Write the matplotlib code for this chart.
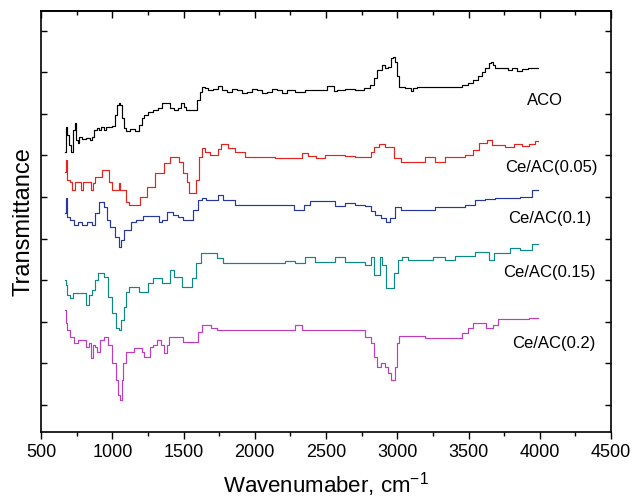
import matplotlib
matplotlib.use("Agg")
import matplotlib.pyplot as plt
import numpy as np
from matplotlib.ticker import MultipleLocator

plt.rcParams["font.family"] = ["Liberation Sans", "DejaVu Sans"]
plt.rcParams["mathtext.fontset"] = "custom"
plt.rcParams["mathtext.rm"] = "Liberation Sans"
plt.rcParams["mathtext.default"] = "regular"

# FTIR spectra: wavenumber (cm-1), transmittance (a.u., offset)
aco_w = [668, 675, 690, 704, 718, 732, 739, 753, 760, 774, 800, 830, 850, 865, 879, 900, 914,
         930, 949, 965, 984, 1005, 1026, 1040, 1047, 1061, 1075, 1089, 1110, 1140, 1174, 1195,
         1216, 1230, 1265, 1300, 1335, 1356, 1391, 1419, 1447, 1475, 1496, 1511, 1525, 1581,
         1602, 1623, 1637, 1658, 1686, 1721, 1756, 1777, 1826, 1860, 1896, 1930, 1967, 2000,
         2037, 2070, 2107, 2140, 2177, 2210, 2247, 2318, 2388, 2458, 2549, 2560, 2598, 2668,
         2739, 2795, 2823, 2844, 2865, 2886, 2900, 2921, 2942, 2963, 2977, 2991, 3005, 3019,
         3090, 3104, 3118, 3160, 3300, 3440, 3475, 3511, 3546, 3581, 3602, 3630, 3651, 3665,
         3679, 3693, 3756, 3791, 3826, 3860, 3897, 3940, 3988]
aco_t = [253, 278, 270, 260, 253, 275, 282, 265, 262, 268, 266, 267, 265, 268, 275, 277, 275,
         278, 275, 278, 278, 279, 290, 300, 302, 300, 287, 277, 274, 276, 274, 280,
         287, 290, 293, 295, 297, 302, 302, 297, 295, 297, 302, 298, 295, 295,
         305, 313, 318, 317, 315, 316, 319, 315, 313, 316, 315, 312, 313, 316,
         315, 312, 313, 316, 315, 312, 315, 313, 315, 315, 319, 314, 315, 316,
         315, 317, 320, 327, 335, 335, 340, 337, 338, 347, 348, 343, 329, 318,
         317, 314, 317, 318, 318, 318, 320, 322, 325, 329, 333, 337, 342, 343,
         340, 337, 337, 335, 337, 334, 336, 337, 337]

ce005_w = [668, 675, 690, 711, 725, 746, 774, 788, 802, 844, 858, 872, 886, 914, 942, 970, 984,
           1005, 1040, 1047, 1054, 1075, 1110, 1125, 1174, 1216, 1265, 1335, 1391, 1419, 1461,
           1475, 1511, 1532, 1546, 1581, 1595, 1616, 1637, 1665, 1700, 1721, 1756, 1770, 1791,
           1832, 1896, 1967, 2037, 2107, 2177, 2247, 2318, 2350, 2400, 2458, 2528, 2598, 2668,
           2739, 2809, 2823, 2850, 2890, 2942, 3005, 3054, 3104, 3160, 3230, 3300, 3370, 3440,
           3511, 3546, 3602, 3651, 3679, 3721, 3791, 3850, 3897, 3950, 3988]
ce005_t = [233, 245, 225, 223, 215, 223, 223, 215, 223, 223, 215, 222, 228, 228, 235, 235, 223,
           215, 215, 222, 215, 215, 203, 200, 200, 208, 218, 232, 242, 248, 248,
           243, 232, 223, 212, 212, 225, 248, 257, 253, 250, 250, 256, 261, 261,
           257, 253, 248, 248, 248, 247, 247, 247, 252, 249, 247, 250, 250, 249,
           248, 248, 253, 258, 261, 258, 247, 243, 243, 243, 248, 243, 248, 248,
           250, 255, 262, 265, 260, 260, 258, 261, 259, 261, 264]

ce01_w = [668, 675, 690, 711, 746, 774, 802, 844, 872, 886, 928, 949, 970, 998, 1033, 1054, 1068,
          1096, 1125, 1139, 1195, 1230, 1265, 1300, 1321, 1335, 1356, 1405, 1440, 1475, 1511,
          1546, 1581, 1616, 1637, 1672, 1721, 1760, 1790, 1830, 1896, 1967, 2037, 2107, 2177,
          2247, 2300, 2330, 2360, 2420, 2458, 2528, 2598, 2668, 2739, 2809, 2823, 2865, 2900,
          2935, 2963, 3005, 3054, 3160, 3230, 3300, 3370, 3440, 3511, 3581, 3651, 3721, 3826,
          3900, 3988]
ce01_t = [192, 207, 188, 185, 180, 183, 180, 183, 180, 192, 203, 198, 185, 178, 168, 158, 165,
          175, 175, 183, 185, 189, 189, 189, 189, 183, 185, 193, 190, 188, 185,
          185, 195, 205, 207, 205, 205, 210, 205, 205, 200, 200, 200, 200, 200,
          200, 195, 195, 200, 204, 204, 204, 199, 202, 200, 199, 194, 190, 187,
          183, 187, 198, 195, 195, 195, 198, 198, 198, 200, 205, 206, 207, 207,
          208, 215]

ce015_w = [668, 675, 690, 711, 732, 767, 802, 823, 844, 865, 886, 914, 928, 949, 984, 1012, 1040,
           1054, 1068, 1089, 1110, 1125, 1174, 1200, 1230, 1265, 1300, 1335, 1356, 1391, 1419,
           1447, 1475, 1505, 1546, 1567, 1602, 1637, 1672, 1707, 1756, 1800, 1896, 1967, 2037,
           2107, 2177, 2247, 2318, 2388, 2458, 2528, 2598, 2668, 2739, 2809, 2823, 2844, 2865,
           2886, 2900, 2935, 2963, 2991, 3019, 3054, 3090, 3195, 3300, 3370, 3440, 3511, 3581,
           3630, 3651, 3670, 3693, 3756, 3826, 3897, 3988]
ce015_t = [125, 120, 110, 107, 112, 112, 112, 100, 110, 115, 125, 132, 132, 128, 108, 92, 77,
           75, 85, 98, 113, 118, 118, 113, 113, 122, 127, 127, 122, 122, 135,
           128, 128, 118, 118, 127, 142, 152, 152, 152, 147, 142, 142, 142, 142,
           142, 142, 144, 142, 148, 143, 143, 148, 143, 143, 140, 148, 130, 130,
           148, 140, 117, 117, 132, 145, 148, 145, 145, 148, 145, 149, 149, 153,
           153, 145, 145, 152, 152, 157, 155, 161]

ce02_w = [668, 675, 690, 718, 746, 774, 802, 830, 844, 858, 872, 886, 900, 928, 949, 984, 1012,
          1033, 1047, 1061, 1068, 1082, 1103, 1139, 1160, 1195, 1216, 1230, 1251, 1272, 1300,
          1330, 1356, 1370, 1391, 1405, 1440, 1475, 1511, 1546, 1581, 1616, 1637, 1672, 1707,
          1756, 1826, 1896, 1967, 2037, 2107, 2177, 2247, 2318, 2350, 2400, 2458, 2528, 2598,
          2668, 2739, 2809, 2823, 2844, 2865, 2900, 2921, 2942, 2963, 2977, 2991, 3005, 3019,
          3160, 3230, 3300, 3370, 3440, 3475, 3511, 3546, 3595, 3651, 3686, 3721, 3791, 3860,
          3988]
ce02_t = [95, 82, 75, 68, 62, 65, 65, 58, 62, 47, 60, 58, 53, 65, 68, 60, 42,
          25, 10, 5, 25, 42, 53, 53, 57, 57, 53, 48, 48, 58, 60,
          65, 60, 52, 60, 68, 68, 68, 63, 63, 63, 73, 80, 80, 77,
          75, 75, 75, 75, 75, 75, 75, 75, 80, 75, 75, 75, 75, 75,
          75, 75, 68, 62, 48, 38, 42, 38, 32, 25, 25, 38, 62, 69,
          69, 67, 67, 67, 67, 72, 77, 82, 82, 77, 80, 86, 86, 86,
          87]

names = ["ACO", "Ce/AC(0.05)", "Ce/AC(0.1)", "Ce/AC(0.15)", "Ce/AC(0.2)"]
colors = ["#000000", "#e3241e", "#26389e", "#0b8a85", "#c03cbf"]
label_x = [4037, 4083, 4069, 4069, 4096]
label_y = [305, 238, 187, 133, 62]

fig = plt.figure(figsize=(6.32, 4.98), dpi=100)
ax = fig.add_axes([0.065, 0.1325, 0.9018, 0.8454])

series = [(aco_w, aco_t), (ce005_w, ce005_t), (ce01_w, ce01_t),
          (ce015_w, ce015_t), (ce02_w, ce02_t)]
for (w, t), c in zip(series, colors):
    ax.plot(w, t, color=c, linewidth=0.85, drawstyle="steps-mid")

for name, lx, ly in zip(names, label_x, label_y):
    ax.text(lx, ly, name, fontsize=12, ha="center", va="center")

ax.set_xlim(500, 4500)
ax.set_ylim(-27, 394)
ax.xaxis.set_major_locator(MultipleLocator(500))
ax.xaxis.set_minor_locator(MultipleLocator(250))
ax.set_yticks(np.arange(10) * 41.6)
ax.set_yticklabels([])
ax.tick_params(axis="x", which="major", direction="out", length=5, width=1, labelsize=13)
ax.tick_params(axis="x", which="minor", direction="out", length=3, width=1)
ax.tick_params(axis="y", which="both", direction="in", length=4, width=1, right=True)

top = ax.secondary_xaxis("top")
top.xaxis.set_major_locator(MultipleLocator(500))
top.xaxis.set_minor_locator(MultipleLocator(250))
top.tick_params(axis="x", which="major", direction="in", length=5, width=1, labeltop=False)
top.tick_params(axis="x", which="minor", direction="in", length=3, width=1)

for s in list(ax.spines.values()) + list(top.spines.values()):
    s.set_linewidth(1.2)

ax.set_xlabel("Wavenumaber, cm$^{-1}$", fontsize=16, labelpad=7)
ax.set_ylabel("Transmittance", fontsize=17, labelpad=1)

fig.savefig("out.png", dpi=100)
